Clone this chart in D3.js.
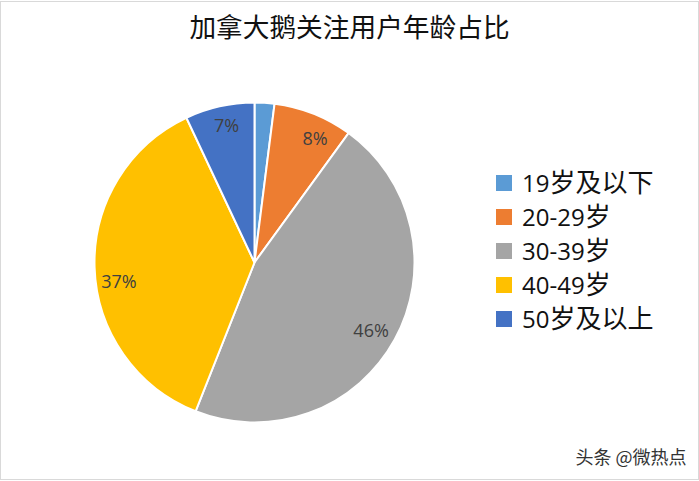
<!DOCTYPE html>
<html>
<head>
<meta charset="utf-8">
<script src="https://cdn.jsdelivr.net/npm/d3@7"></script>
<style>
  html, body { margin: 0; padding: 0; background: #fff; }
  svg { display: block; font-family: "Open Sans", "Noto Sans CJK SC", sans-serif; }
</style>
</head>
<body>
<svg id="chart" width="699" height="481"></svg>
<script>
const width = 699;
const height = 481;

const chartTitle = "加拿大鹅关注用户年龄占比";
const ageGroups = ["19岁及以下", "20-29岁", "30-39岁", "40-49岁", "50岁及以上"];
const shares = [2, 8, 46, 37, 7];
const sliceColors = ["#5b9bd5", "#ed7d31", "#a5a5a5", "#ffc000", "#4472c4"];
const watermark = "头条 @微热点";

const svg = d3.select("#chart");

// grey frame of the screenshot
svg.append("rect")
  .attr("x", 0.5).attr("y", 1.5)
  .attr("width", width - 1).attr("height", height - 3)
  .attr("fill", "#fff")
  .attr("stroke", "#d9d9d9");

svg.append("text")
  .attr("x", 349.5)
  .attr("y", 37)
  .attr("text-anchor", "middle")
  .attr("font-family", "'Noto Sans CJK SC', sans-serif")
  .attr("font-size", 26.7)
  .attr("fill", "#111")
  .text(chartTitle);

const cx = 254.5;
const cy = 262.5;
const radius = 160;

const pie = d3.pie().sort(null).value(d => d.value);
const arc = d3.arc().innerRadius(0).outerRadius(radius);
const labelArc = d3.arc().innerRadius(radius * 0.86).outerRadius(radius * 0.86);

const color = d3.scaleOrdinal().domain(ageGroups).range(sliceColors);
const data = ageGroups.map((name, i) => ({ name, value: shares[i] }));

const pieG = svg.append("g").attr("transform", `translate(${cx},${cy})`);

pieG.selectAll("path")
  .data(pie(data))
  .enter()
  .append("path")
  .attr("d", arc)
  .attr("fill", d => color(d.data.name))
  .attr("stroke", "#fff")
  .attr("stroke-width", 2);

// small nudges, the labels sit at the inside end like in a spreadsheet chart
const labelNudge = { "20-29岁": [10, 4], "30-39岁": [-4, 2], "40-49岁": [2, 15], "50岁及以上": [2, -3] };

pieG.selectAll("text")
  .data(pie(data).filter(d => d.data.value >= 5))
  .enter()
  .append("text")
  .attr("transform", d => {
    const [x, y] = labelArc.centroid(d);
    const n = labelNudge[d.data.name] || [0, 0];
    return `translate(${x + n[0]},${y + n[1]})`;
  })
  .attr("text-anchor", "middle")
  .attr("dy", "0.36em")
  .attr("font-size", 18)
  .attr("fill", "#404040")
  .text(d => d.data.value + "%");

// legend
const legendY = d3.scalePoint().domain(ageGroups).range([183, 319]);

const legend = svg.append("g");
const rows = legend.selectAll("g")
  .data(ageGroups)
  .enter()
  .append("g")
  .attr("transform", d => `translate(496,${legendY(d)})`);

rows.append("rect")
  .attr("y", -8)
  .attr("width", 16)
  .attr("height", 16)
  .attr("fill", d => color(d));

// CJK glyphs run wider than the digits here, so they get a bigger size
rows.append("text")
  .attr("x", 26)
  .attr("y", 9)
  .attr("fill", "#111")
  .selectAll("tspan")
  .data(d => d.match(/[0-9-]+|[^0-9-]+/g))
  .enter()
  .append("tspan")
  .attr("font-size", d => /[0-9]/.test(d) ? 24 : 26)
  .text(d => d);

svg.append("text")
  .attr("x", 631)
  .attr("y", 464)
  .attr("text-anchor", "middle")
  .attr("font-family", "'Noto Sans CJK SC', sans-serif")
  .attr("font-size", 18)
  .attr("fill", "#333")
  .text(watermark);
</script>
</body>
</html>
